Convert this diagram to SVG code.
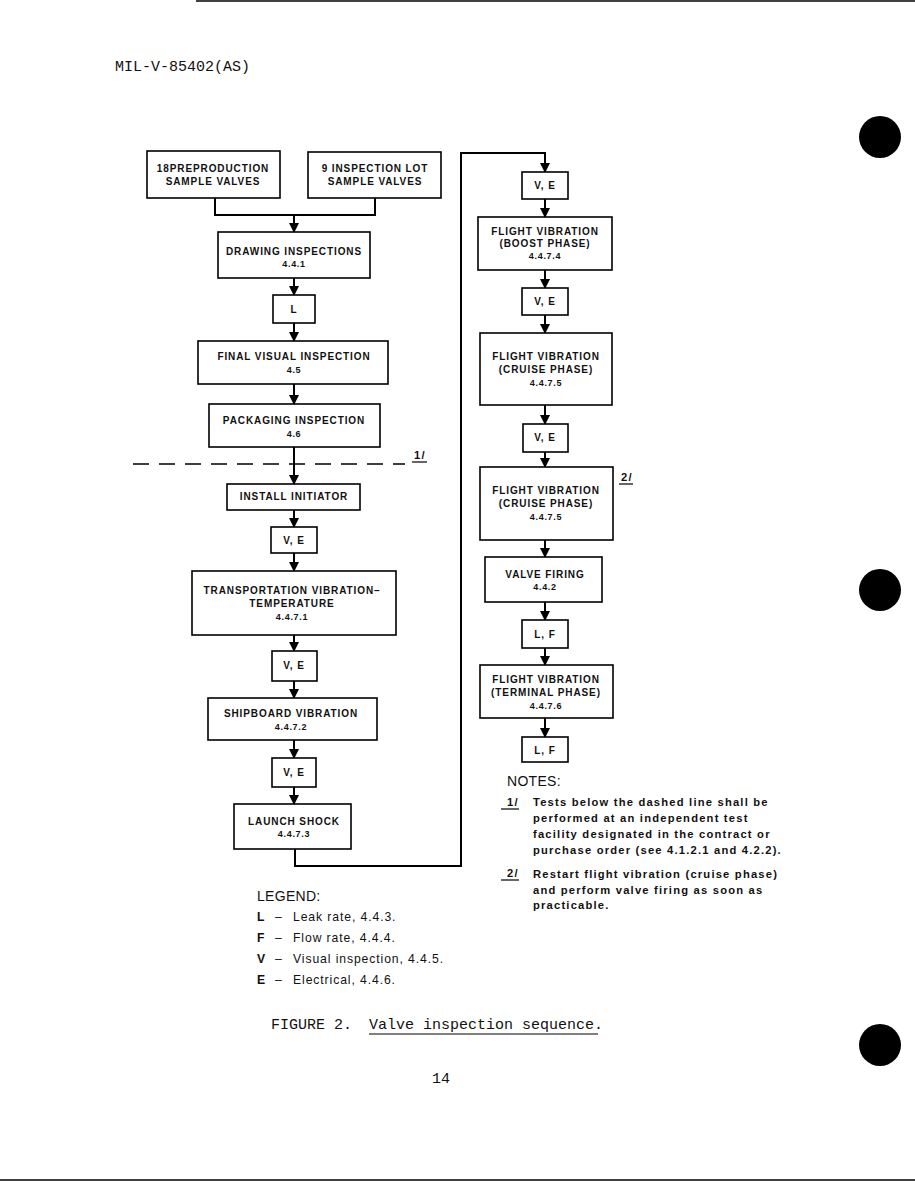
<svg xmlns="http://www.w3.org/2000/svg" width="915" height="1182" viewBox="0 0 915 1182">
<defs>
<marker id="ah" markerWidth="10" markerHeight="10" refX="9" refY="5" orient="auto" markerUnits="userSpaceOnUse">
<path d="M0,0 L10,5 L0,10 Z" fill="#000"/>
</marker>
<style>
.box{fill:#fff;stroke:#000;stroke-width:1.6}
.lbl{font-family:"Liberation Sans",Arial,sans-serif;font-size:10px;font-weight:bold;letter-spacing:0.9px;text-anchor:middle;fill:#111}
.num{font-family:"Liberation Sans",Arial,sans-serif;font-size:9px;font-weight:bold;letter-spacing:0.7px;text-anchor:middle;fill:#111}
.con{fill:none;stroke:#000;stroke-width:2}
.arr{fill:none;stroke:#000;stroke-width:2;marker-end:url(#ah)}
.note{font-family:"Liberation Sans",Arial,sans-serif;font-size:11.2px;font-weight:bold;letter-spacing:1.2px;fill:#111}
.leg{font-family:"Liberation Sans",Arial,sans-serif;font-size:12.2px;letter-spacing:0.9px;fill:#111}
.mono{font-family:"Liberation Mono","Courier New",monospace;font-size:15px;fill:#111}
.hole{fill:#000}
</style>
</defs>
<rect x="0" y="0" width="915" height="1182" fill="#fff"/>
<g id="page-marks">
<line x1="196" y1="1" x2="915" y2="1" stroke="#000" stroke-width="1.5"/>
<line x1="0" y1="1180" x2="915" y2="1180" stroke="#000" stroke-width="1.5"/>
<circle class="hole" cx="880" cy="137" r="21"/>
<circle class="hole" cx="880" cy="590" r="21"/>
<circle class="hole" cx="880" cy="1045" r="21"/>
</g>
<text id="header" class="mono" x="115" y="71">MIL-V-85402(AS)</text>

<g id="connectors">
<path class="con" d="M215,198 V215 H375 V198"/>
<path class="arr" d="M294,215 V232"/>
<path class="arr" d="M294,278 V295"/>
<path class="arr" d="M294,323 V341"/>
<path class="arr" d="M294,384 V404"/>
<path class="arr" d="M294,447 V484"/>
<path class="arr" d="M294,510 V527"/>
<path class="arr" d="M294,553 V571"/>
<path class="arr" d="M294,635 V651"/>
<path class="arr" d="M294,681 V698"/>
<path class="arr" d="M294,740 V758"/>
<path class="arr" d="M294,787 V804"/>
<path class="arr" d="M295,849 V866 H461 V153 H545 V172"/>
<path class="arr" d="M545,199 V217"/>
<path class="arr" d="M545,270 V288"/>
<path class="arr" d="M545,315 V333"/>
<path class="arr" d="M545,405 V424"/>
<path class="arr" d="M545,452 V467"/>
<path class="arr" d="M545,540 V557"/>
<path class="arr" d="M545,602 V620"/>
<path class="arr" d="M545,648 V665"/>
<path class="arr" d="M545,718 V737"/>
<line x1="133" y1="464" x2="405" y2="464" stroke="#000" stroke-width="1.6" stroke-dasharray="16,10"/>
</g>
<g id="mark1">
<text class="note" x="414" y="459">1/</text>
<line x1="412" y1="462" x2="427" y2="462" stroke="#000" stroke-width="1.2"/>
</g>
<g id="mark2">
<text class="note" x="621" y="481">2/</text>
<line x1="619" y1="484" x2="633" y2="484" stroke="#000" stroke-width="1.2"/>
</g>

<g id="n-preproduction"><rect class="box" x="147" y="151" width="133" height="47"/>
<text class="lbl" x="213" y="172">18PREPRODUCTION</text><text class="lbl" x="213" y="185">SAMPLE  VALVES</text></g>
<g id="n-inspection-lot"><rect class="box" x="308" y="152" width="133" height="46"/>
<text class="lbl" x="375" y="172">9 INSPECTION LOT</text><text class="lbl" x="375" y="185">SAMPLE VALVES</text></g>
<g id="n-drawing"><rect class="box" x="218" y="232" width="152" height="46"/>
<text class="lbl" x="294" y="255">DRAWING INSPECTIONS</text><text class="num" x="294" y="267">4.4.1</text></g>
<g id="n-L"><rect class="box" x="273" y="295" width="42" height="28"/>
<text class="lbl" x="294" y="313">L</text></g>
<g id="n-final-visual"><rect class="box" x="198" y="341" width="190" height="43"/>
<text class="lbl" x="294" y="360">FINAL VISUAL INSPECTION</text><text class="num" x="294" y="373">4.5</text></g>
<g id="n-packaging"><rect class="box" x="209" y="404" width="171" height="43"/>
<text class="lbl" x="294" y="424">PACKAGING INSPECTION</text><text class="num" x="294" y="437">4.6</text></g>
<g id="n-install"><rect class="box" x="227" y="484" width="133" height="26"/>
<text class="lbl" x="294" y="500">INSTALL INITIATOR</text></g>
<g id="n-ve1"><rect class="box" x="271" y="527" width="46" height="26"/>
<text class="lbl" x="294" y="544">V, E</text></g>
<g id="n-transport"><rect class="box" x="192" y="571" width="204" height="64"/>
<text class="lbl" x="292" y="594">TRANSPORTATION VIBRATION–</text><text class="lbl" x="292" y="607">TEMPERATURE</text><text class="num" x="292" y="620">4.4.7.1</text></g>
<g id="n-ve2"><rect class="box" x="272" y="651" width="45" height="30"/>
<text class="lbl" x="294" y="669">V, E</text></g>
<g id="n-shipboard"><rect class="box" x="208" y="698" width="169" height="42"/>
<text class="lbl" x="291" y="717">SHIPBOARD VIBRATION</text><text class="num" x="291" y="730">4.4.7.2</text></g>
<g id="n-ve3"><rect class="box" x="272" y="758" width="44" height="29"/>
<text class="lbl" x="294" y="776">V, E</text></g>
<g id="n-launch"><rect class="box" x="234" y="804" width="117" height="45"/>
<text class="lbl" x="294" y="825">LAUNCH SHOCK</text><text class="num" x="294" y="837">4.4.7.3</text></g>

<g id="n-ve4"><rect class="box" x="522" y="172" width="46" height="27"/>
<text class="lbl" x="545" y="189">V, E</text></g>
<g id="n-boost"><rect class="box" x="478" y="217" width="134" height="53"/>
<text class="lbl" x="545" y="235">FLIGHT VIBRATION</text><text class="lbl" x="545" y="247">(BOOST PHASE)</text><text class="num" x="545" y="259">4.4.7.4</text></g>
<g id="n-ve5"><rect class="box" x="522" y="288" width="46" height="27"/>
<text class="lbl" x="545" y="305">V, E</text></g>
<g id="n-cruise1"><rect class="box" x="480" y="333" width="132" height="72"/>
<text class="lbl" x="546" y="360">FLIGHT VIBRATION</text><text class="lbl" x="546" y="373">(CRUISE PHASE)</text><text class="num" x="546" y="386">4.4.7.5</text></g>
<g id="n-ve6"><rect class="box" x="523" y="424" width="45" height="28"/>
<text class="lbl" x="545" y="441">V, E</text></g>
<g id="n-cruise2"><rect class="box" x="480" y="467" width="133" height="73"/>
<text class="lbl" x="546" y="494">FLIGHT VIBRATION</text><text class="lbl" x="546" y="507">(CRUISE PHASE)</text><text class="num" x="546" y="520">4.4.7.5</text></g>
<g id="n-valve-firing"><rect class="box" x="485" y="557" width="117" height="45"/>
<text class="lbl" x="545" y="578">VALVE FIRING</text><text class="num" x="545" y="590">4.4.2</text></g>
<g id="n-lf1"><rect class="box" x="522" y="620" width="46" height="28"/>
<text class="lbl" x="545" y="638">L, F</text></g>
<g id="n-terminal"><rect class="box" x="480" y="665" width="133" height="53"/>
<text class="lbl" x="546" y="683">FLIGHT VIBRATION</text><text class="lbl" x="546" y="696">(TERMINAL PHASE)</text><text class="num" x="546" y="709">4.4.7.6</text></g>
<g id="n-lf2"><rect class="box" x="522" y="737" width="46" height="25"/>
<text class="lbl" x="545" y="754">L, F</text></g>

<g id="notes">
<text class="leg" x="507" y="786" style="font-size:14px;letter-spacing:0.3px">NOTES:</text>
<text class="note" x="507" y="806">1/</text>
<line x1="501" y1="809" x2="519" y2="809" stroke="#000" stroke-width="1.2"/>
<text class="note" x="533" y="806">Tests below the dashed line shall be</text>
<text class="note" x="533" y="822">performed at an independent test</text>
<text class="note" x="533" y="838">facility designated in the contract or</text>
<text class="note" x="533" y="854">purchase order (see 4.1.2.1 and 4.2.2).</text>
<text class="note" x="507" y="877">2/</text>
<line x1="501" y1="880" x2="519" y2="880" stroke="#000" stroke-width="1.2"/>
<text class="note" x="533" y="878">Restart flight vibration (cruise phase)</text>
<text class="note" x="533" y="894">and perform valve firing as soon as</text>
<text class="note" x="533" y="909">practicable.</text>
</g>
<g id="legend">
<text class="leg" x="257" y="901" style="font-size:14px;letter-spacing:0.3px">LEGEND:</text>
<text class="leg" x="257" y="921" font-weight="bold">L</text><text class="leg" x="275" y="921">–</text><text class="leg" x="293" y="921">Leak rate, 4.4.3.</text>
<text class="leg" x="257" y="942" font-weight="bold">F</text><text class="leg" x="275" y="942">–</text><text class="leg" x="293" y="942">Flow rate, 4.4.4.</text>
<text class="leg" x="257" y="963" font-weight="bold">V</text><text class="leg" x="275" y="963">–</text><text class="leg" x="293" y="963">Visual inspection, 4.4.5.</text>
<text class="leg" x="257" y="984" font-weight="bold">E</text><text class="leg" x="275" y="984">–</text><text class="leg" x="293" y="984">Electrical, 4.4.6.</text>
</g>
<g id="caption">
<text class="mono" x="271" y="1029">FIGURE 2.</text>
<text class="mono" x="369" y="1029">Valve inspection sequence.</text>
<line x1="369" y1="1034" x2="598" y2="1034" stroke="#000" stroke-width="1.2"/>
<text class="mono" x="432" y="1083">14</text>
</g>
</svg>
